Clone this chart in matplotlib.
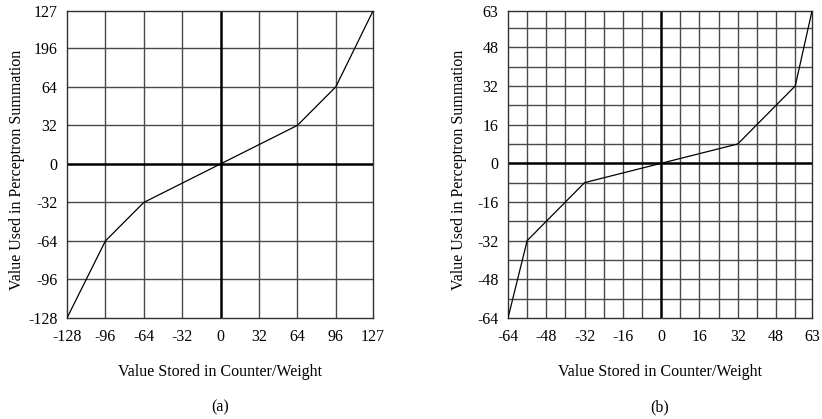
import matplotlib
matplotlib.use("Agg")
import matplotlib.pyplot as plt

plt.rcParams['font.family'] = ['Liberation Serif', 'DejaVu Serif']

# (a) 8-bit counter/weight mapping
stored_a = [-128, -96, -64, 0, 64, 96, 127]
used_a = [-128, -64, -32, 0, 32, 64, 127]
ticks_a = [-128, -96, -64, -32, 0, 32, 64, 96, 127]
xlabels_a = ["-128", "-96", "-64", "-32", "0", "32", "64", "96", "127"]
ylabels_a = ["-128", "-96", "-64", "-32", "0", "32", "64", "196", "127"]

# (b) 7-bit counter/weight mapping
stored_b = [-64, -56, -32, 0, 32, 56, 63]
used_b = [-64, -32, -8, 0, 8, 32, 63]
ticks_b = [-64, -48, -32, -16, 0, 16, 32, 48, 63]
labels_b = ["-64", "-48", "-32", "-16", "0", "16", "32", "48", "63"]
minor_b = [-56, -40, -24, -8, 8, 24, 40, 56]

fig = plt.figure(figsize=(8.22, 4.19), dpi=100)
ax1 = fig.add_axes([67/822, 101/419, 306/822, 307/419])
ax2 = fig.add_axes([508/822, 101/419, 304/822, 307/419])

grid_color = "#4a4a4a"
fs = 11.5


def style(ax, xs, ys, ticks, xlabels, ylabels, lim, minor=None, tag=""):
    ax.set_xlim(lim)
    ax.set_ylim(lim)
    for t in ticks[1:-1]:
        if t == 0:
            continue
        ax.axvline(t, color=grid_color, lw=1.0, zorder=1)
        ax.axhline(t, color=grid_color, lw=1.0, zorder=1)
    if minor:
        for t in minor:
            ax.axvline(t, color=grid_color, lw=1.0, zorder=1)
            ax.axhline(t, color=grid_color, lw=1.0, zorder=1)
    ax.axvline(0, color="black", lw=1.8, zorder=2)
    ax.axhline(0, color="black", lw=1.8, zorder=2)
    ax.plot(xs, ys, color="black", lw=0.9, zorder=3)
    ax.set_xticks(ticks)
    ax.set_xticklabels(xlabels)
    ax.set_yticks(ticks)
    ax.set_yticklabels(ylabels)
    ax.tick_params(axis="x", length=0, labelsize=fs, pad=8)
    ax.tick_params(axis="y", length=0, labelsize=fs, pad=7)
    for s in ax.spines.values():
        s.set_color("#303030")
        s.set_linewidth(1.0)
    h = ax.get_position().height * fig.get_figheight() * fig.dpi
    w = ax.get_position().width * fig.get_figwidth() * fig.dpi
    ax.set_xlabel("Value Stored in Counter/Weight", fontsize=fs, va="center")
    ax.xaxis.set_label_coords(0.5, -54 / h)
    ax.set_ylabel("Value Used in Perceptron Summation", fontsize=fs, va="center")
    ax.yaxis.set_label_coords(-49.5 / w, 0.484)
    ax.text(0.5, -89 / h, tag, transform=ax.transAxes, ha="center", va="center",
            fontsize=fs)


style(ax1, stored_a, used_a, ticks_a, xlabels_a, ylabels_a, (-128, 127), tag="(a)")
style(ax2, stored_b, used_b, ticks_b, labels_b, labels_b, (-64, 63),
      minor=minor_b, tag="(b)")

fig.savefig("out.png", dpi=100)
